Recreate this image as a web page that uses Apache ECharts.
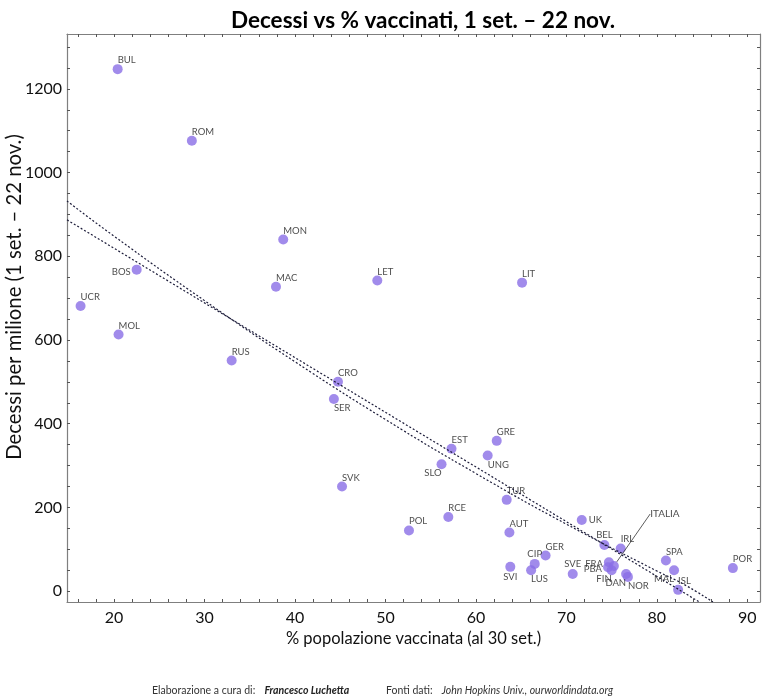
<!DOCTYPE html>
<html>
<head>
<meta charset="utf-8">
<script src="https://cdn.jsdelivr.net/npm/echarts@6/dist/echarts.min.js"></script>
<style>
    html, body { margin: 0; padding: 0; background: #fff; }
    #chart { width: 767px; height: 696px; }
</style>
</head>
<body>
<div id="chart"></div>
<script>
// paesi (sigle) e valori
const countries = ['BUL', 'ROM', 'MON', 'BOS', 'MAC', 'UCR', 'MOL', 'RUS', 'LET', 'LIT',
    'CRO', 'SER', 'EST', 'GRE', 'UNG', 'SLO', 'SVK', 'TUR', 'RCE', 'POL',
    'AUT', 'UK', 'BEL', 'IRL', 'GER', 'CIP', 'SVI', 'LUS', 'SVE', 'FRA',
    'PBA', 'FIN', 'DAN', 'NOR', 'MAL', 'SPA', 'ISL', 'POR'];
// % popolazione vaccinata (al 30 set.)
const vaccinated = [20.4, 28.6, 38.7, 22.5, 37.9, 16.3, 20.5, 33.0, 49.1, 65.1,
    44.75, 44.3, 57.3, 62.3, 61.3, 56.2, 45.2, 63.4, 56.95, 52.6,
    63.7, 71.7, 74.2, 76.0, 67.7, 66.5, 63.8, 66.1, 70.7, 74.7,
    74.6, 75.0, 76.6, 76.8, 81.9, 81.0, 82.35, 88.4];
// decessi per milione (1 set. - 22 nov.)
const deaths = [1247, 1076, 840, 768, 727, 681, 613, 551, 742, 737,
    500, 459, 340, 359, 324, 303, 250, 218, 177, 145,
    140, 170, 110, 102, 85, 65, 58, 50, 41, 69,
    57, 50, 41, 34, 50, 73, 3, 55];

// Italia, evidenziata a parte
const italyName = 'ITALIA';
const italyPoint = [75.25, 60];

// linee di tendenza
const trendLinear = [[14.8, 887], [84.7, -26]];
const trendCurveX = [14.8, 20, 30, 40, 50, 60, 70, 80, 83, 86.2];
const trendCurveY = [932, 848, 694, 548, 410, 281, 160, 48, 16, -26];

// etichette degli assi
const xTickLabels = [20, 30, 40, 50, 60, 70, 80, 90];
const yTickLabels = [0, 200, 400, 600, 800, 1000, 1200];

// posizione delle etichette (stile): [x, y, align, verticalAlign]
const placements = {
    tr: [5, 1, 'left', 'bottom'],
    t: [5, 0, 'center', 'bottom'],
    r: [12, 5, 'left', 'middle'],
    l: [-1, 7, 'right', 'middle'],
    br: [5, 9, 'left', 'top'],
    b: [5, 10, 'center', 'top'],
    bl: [5, 9, 'right', 'top']
};
const labelPlace = {
    BOS: 'l', SER: 'br', UNG: 'br', SLO: 'bl', UK: 'r', BEL: 't', CIP: 't',
    SVI: 'b', LUS: 'br', SVE: 't', FRA: 'l', PBA: 'l', FIN: 'bl', DAN: 'bl',
    NOR: 'br', MAL: 'bl'
};

const FONT = 'Lato';
const pointColor = '#8a6ee6';

const xMinorTicks = [];
for (let v = 16; v <= 90; v += 2) xMinorTicks.push(v);
const yMinorTicks = [];
for (let v = 0; v <= 1300; v += 50) yMinorTicks.push(v);

const scatterData = countries.map((name, i) => {
    const p = placements[labelPlace[name] || 'tr'];
    return {
        name: name,
        value: [vaccinated[i], deaths[i]],
        label: { position: [p[0], p[1]], align: p[2], verticalAlign: p[3] }
    };
});

const chart = echarts.init(document.getElementById('chart'));

const axisCommon = {
    type: 'value',
    axisLine: { show: true, onZero: false, lineStyle: { color: '#7f7f7f', width: 1.2 } },
    splitLine: { show: false }
};

chart.setOption({
    animation: false,
    backgroundColor: '#fff',
    textStyle: { fontFamily: FONT },
    title: [
        {
            text: 'Decessi vs % vaccinati, 1 set. – 22 nov.',
            left: 226,
            top: 4,
            textStyle: { fontFamily: FONT, fontSize: 22.5, fontWeight: 'bold', color: '#000' }
        },
        {
            text: '{n|Elaborazione a cura di:}  {b|Francesco Luchetta}        {n|Fonti dati:}  {i|John Hopkins Univ., ourworldindata.org}',
            left: 147,
            top: 677,
            textStyle: {
                fontWeight: 'normal',
                rich: {
                    n: { fontFamily: FONT, fontSize: 10.5, color: '#333', fontWeight: 'normal' },
                    b: { fontFamily: FONT, fontSize: 10.5, color: '#222', fontWeight: 'bold', fontStyle: 'italic' },
                    i: { fontFamily: FONT, fontSize: 10.5, color: '#333', fontWeight: 'normal', fontStyle: 'italic' }
                }
            }
        }
    ],
    grid: { left: 67, right: 7, top: 34, bottom: 94, outerBoundsMode: 'none', containLabel: false },
    xAxis: [
        Object.assign({}, axisCommon, {
            min: 14.8,
            max: 91.4,
            position: 'bottom',
            name: '% popolazione vaccinata (al 30 set.)',
            nameLocation: 'middle',
            nameGap: 28,
            nameMoveOverlap: false,
            nameTextStyle: { fontFamily: FONT, fontSize: 16.5, color: '#111' },
            axisTick: { show: true, inside: true, length: 3, customValues: xMinorTicks, lineStyle: { color: '#555' } },
            axisLabel: { customValues: xTickLabels, fontFamily: FONT, fontSize: 16, color: '#111', margin: 8 }
        }),
        Object.assign({}, axisCommon, {
            min: 14.8,
            max: 91.4,
            position: 'top',
            axisTick: { show: true, inside: true, length: 3, customValues: xMinorTicks, lineStyle: { color: '#555' } },
            axisLabel: { show: false }
        })
    ],
    yAxis: [
        Object.assign({}, axisCommon, {
            min: -26,
            max: 1331,
            position: 'left',
            name: 'Decessi per milione (1 set. – 22 nov.)',
            nameLocation: 'middle',
            nameGap: 43,
            nameMoveOverlap: false,
            nameTextStyle: { fontFamily: FONT, fontSize: 20.3, color: '#111', padding: [0, 0, 0, 42] },
            axisTick: { show: true, inside: true, length: 3, customValues: yMinorTicks, lineStyle: { color: '#555' } },
            axisLabel: {
                customValues: yTickLabels,
                formatter: (v) => String(v),
                fontFamily: FONT,
                fontSize: 16,
                color: '#111',
                margin: 5
            }
        }),
        Object.assign({}, axisCommon, {
            min: -26,
            max: 1331,
            position: 'right',
            axisTick: { show: true, inside: true, length: 3, customValues: yMinorTicks, lineStyle: { color: '#555' } },
            axisLabel: { show: false }
        })
    ],
    series: [
        {
            name: 'paesi',
            type: 'scatter',
            symbolSize: 10,
            itemStyle: { color: pointColor, opacity: 0.8 },
            label: {
                show: true,
                formatter: '{b}',
                fontFamily: FONT,
                fontSize: 9.5,
                color: '#1a1a1a'
            },
            data: scatterData,
            z: 2
        },
        {
            name: italyName,
            type: 'scatter',
            symbolSize: 10,
            itemStyle: { color: pointColor, opacity: 0.8 },
            label: {
                show: true,
                position: 'inside',
                formatter: '{a}',
                fontFamily: FONT,
                fontSize: 10,
                color: '#1a1a1a'
            },
            labelLayout: { dx: 51, dy: -52 },
            labelLine: { show: true, lineStyle: { color: '#333', width: 0.8 } },
            data: [italyPoint],
            z: 3
        },
        {
            name: 'lineare',
            type: 'line',
            symbol: 'none',
            silent: true,
            lineStyle: { color: '#1c1c3a', width: 1.2, type: [2, 2] },
            data: trendLinear,
            z: 4
        },
        {
            name: 'curva',
            type: 'line',
            symbol: 'none',
            smooth: true,
            silent: true,
            lineStyle: { color: '#1c1c3a', width: 1.2, type: [2, 2] },
            data: trendCurveX.map((x, i) => [x, trendCurveY[i]]),
            z: 4
        }
    ]
});
</script>
</body>
</html>
